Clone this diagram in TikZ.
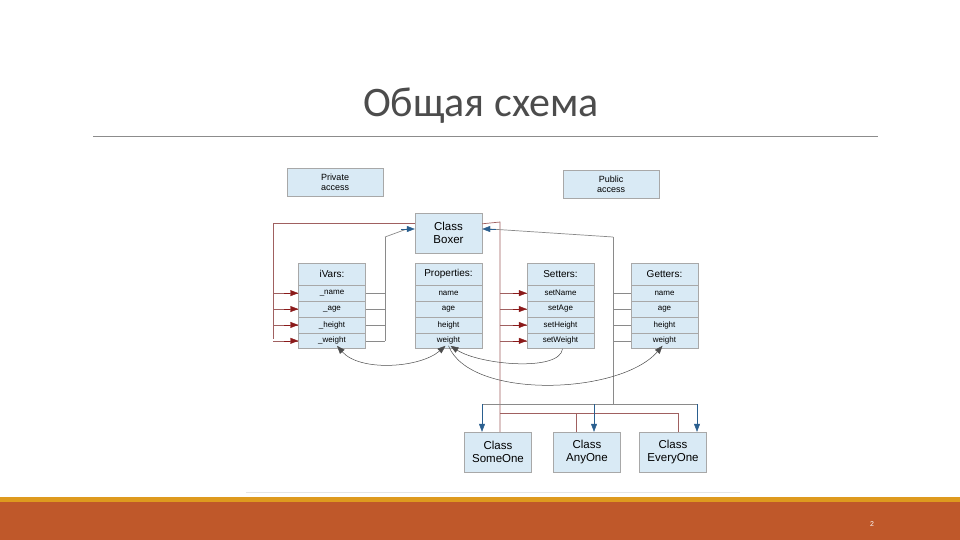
\documentclass[tikz,border=0pt]{standalone}
\usepackage{fontspec}
\setmainfont{Liberation Sans}
\newfontfamily\titlefont{Carlito}
\usetikzlibrary{arrows.meta}
\definecolor{boxfill}{HTML}{D9EAF5}
\definecolor{boxline}{HTML}{A8A8A8}
\definecolor{redarr}{HTML}{8B1A1A}
\definecolor{bluearr}{HTML}{2A5F8F}
\definecolor{wire}{HTML}{8A8A8A}
\definecolor{redwire}{HTML}{A06060}
\definecolor{band}{HTML}{BF582A}
\definecolor{bandtop}{HTML}{DE9A1E}
\tikzset{
  cell/.style={draw=boxline,fill=boxfill,minimum width=67pt,minimum height=15.5pt,inner sep=0pt,font=\fontsize{8}{9}\selectfont},
  hdr/.style={cell,minimum height=22pt,font=\fontsize{10}{11}\selectfont},
  big/.style={draw=boxline,fill=boxfill,minimum width=67pt,minimum height=40pt,inner sep=0pt,align=center,font=\fontsize{11.5}{13}\selectfont},
  acc/.style={draw=boxline,fill=boxfill,minimum width=96pt,minimum height=28pt,inner sep=0pt,align=center,font=\fontsize{9}{10}\selectfont},
  rw/.style={draw=redwire,line width=0.7pt},
  bw/.style={draw=wire,line width=0.7pt},
  rarr/.style={-{Triangle[length=8pt,width=6pt]},redarr},
  barr/.style={-{Triangle[length=8pt,width=6pt]},bluearr},
  curv/.style={draw=black!70,line width=0.5pt},
}
\begin{document}
\begin{tikzpicture}[x=1pt,y=-1pt]
\useasboundingbox (0,0) rectangle (960,540);
\fill[white] (0,0) rectangle (960,540);
\node[text=black!70,font=\titlefont\fontsize{42}{46}\selectfont] (title) at (481,106) {Общая схема};
\draw[black!45,line width=0.6pt] (93,136) coordinate (tl) -- (878,136) coordinate (tr);
\draw[black!10,line width=0.6pt] (246,492) coordinate (fl) -- (740,492) coordinate (fr);
\fill[bandtop] (0,497) rectangle (960,503);
\fill[band] (0,502) rectangle (960,540);
\node[text=white,font=\fontsize{7}{8}\selectfont] (pg) at (872,524) {2};

\node[acc] (priv) at (335,182) {Private\\access};
\node[acc] (pub) at (611,184.5) {Public\\access};
\node[big] (boxer) at (448.5,233) {Class\\Boxer};

% columns
\foreach \nm/\cx/\h/\a/\b/\c/\d in {iv/332/iVars:/\_name/\_age/\_height/\_weight,
  pr/448.5/Properties:/name/age/height/weight,
  se/560.5/Setters:/setName/setAge/setHeight/setWeight,
  ge/664.5/Getters:/name/age/height/weight}{
  \node[hdr] (\nm0) at (\cx,274) {\h};
  \node[cell,anchor=north] (\nm1) at (\nm0.south) {\a};
  \node[cell,anchor=north] (\nm2) at (\nm1.south) {\b};
  \node[cell,anchor=north] (\nm3) at (\nm2.south) {\c};
  \node[cell,anchor=north] (\nm4) at (\nm3.south) {\d};
}

\node[big] (some) at (498,452) {Class\\SomeOne};
\node[big] (any) at (587,452) {Class\\AnyOne};
\node[big] (every) at (673,452) {Class\\EveryOne};

% red wiring left
\coordinate (rl) at (273,222);
\draw[rw] ([yshift=-11pt]boxer.north west) -| (273,339);
\foreach \i in {1,2,3,4}{
  \draw[rw] (iv\i.west -| rl) -- (iv\i.west);
  \draw[rarr] ([xshift=-14pt]iv\i.west) -- (iv\i.west);
}
% red wiring right
\coordinate (rr) at (500,222);
\draw[rw] ([yshift=-11pt]boxer.north east) -- (rr) -- (some.north -| rr);
\foreach \i in {1,2,3,4}{
  \draw[rw] (se\i.west -| rr) -- (se\i.west);
  \draw[rarr] ([xshift=-14pt]se\i.west) -- (se\i.west);
}
\draw[rw] (500,413) -| (any.north -| 576,0);
\draw[rw] (576,413) -| (every.north -| 678,0);

% blue wiring left
\coordinate (bl) at (385,237);
\foreach \i in {1,2,3,4}{ \draw[bw] (iv\i.east) -- (iv\i.east -| bl); }
\draw[bw] (iv4.east -| bl) -- (bl);
\draw[bw] (bl) -- ([yshift=4pt,xshift=-8pt]boxer.west);
\draw[barr] ([yshift=4pt,xshift=-14pt]boxer.west) -- ([yshift=4pt]boxer.west);
% blue wiring right
\coordinate (br) at (613,237);
\foreach \i in {1,2,3,4}{ \draw[bw] (ge\i.west) -- (ge\i.west -| br); }
\draw[bw] (br) -- (613,404);
\draw[bw] (br) -- ([yshift=4pt,xshift=8pt]boxer.east);
\draw[barr] ([yshift=4pt,xshift=14pt]boxer.east) -- ([yshift=4pt]boxer.east);
\draw[bw] (482,404) -- (697,404);
\draw[barr] (482,404) -- (some.north -| 482,0);
\draw[barr] (594,404) -- (any.north -| 594,0);
\draw[barr] (697,404) -- (every.north -| 697,0);

% curved arrows
\draw[curv,{Triangle[length=8pt,width=6pt]}-{Triangle[length=8pt,width=6pt]}] ([xshift=5pt,yshift=3pt]iv4.south) .. controls (360,372) and (420,368) .. ([xshift=-3pt,yshift=3pt]pr4.south);
\draw[curv,-{Triangle[length=8pt,width=6pt]}] ([xshift=2pt]se4.south) .. controls (560,372) and (480,365) .. ([xshift=2pt,yshift=3pt]pr4.south);
\draw[curv,-{Triangle[length=8pt,width=6pt]}] ([xshift=0pt,yshift=3pt]pr4.south) .. controls (470,400) and (620,395) .. ([xshift=-2pt,yshift=3pt]ge4.south);
\end{tikzpicture}
\end{document}
